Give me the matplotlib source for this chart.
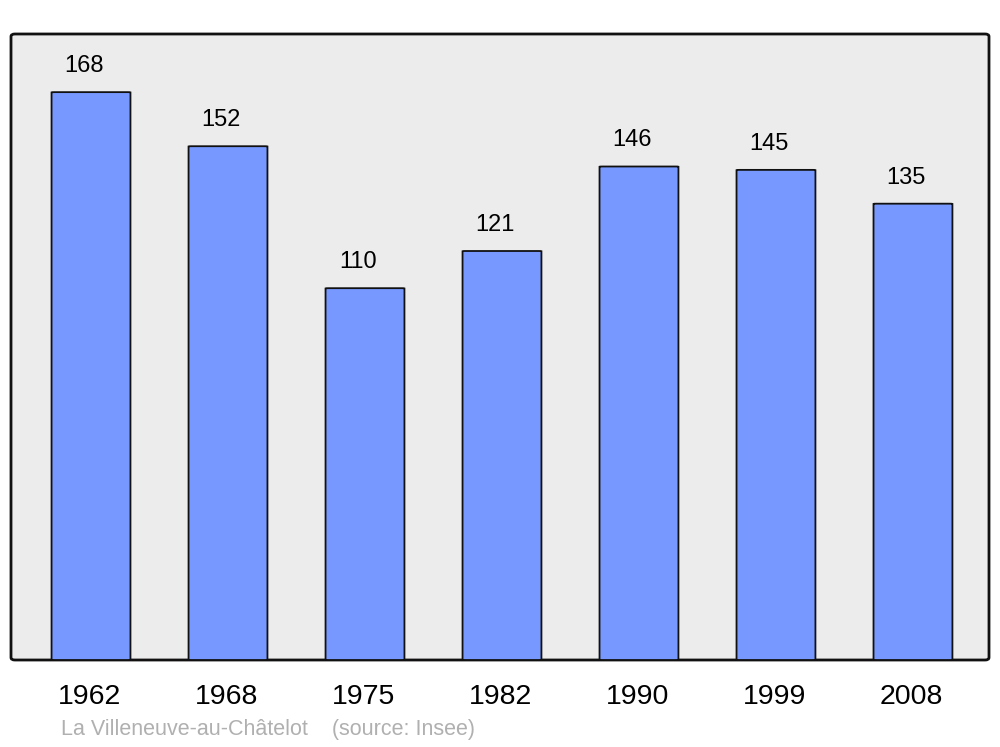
import matplotlib.pyplot as plt
from matplotlib.patches import FancyBboxPatch

years = ['1962', '1968', '1975', '1982', '1990', '1999', '2008']
population = [168, 152, 110, 121, 146, 145, 135]

plt.rcParams['font.family'] = ['Liberation Sans', 'DejaVu Sans']

fig = plt.figure(figsize=(10, 7.47), dpi=100)
# axes box: x 11..989, y 34..660 (pixels)
ax = fig.add_axes([11 / 1000, 1 - 660 / 747, 978 / 1000, 626 / 747])
ax.set_xlim(-0.584, 6.555)
ax.set_ylim(0, 185.2)
ax.axis('off')

# rounded grey frame
frame = FancyBboxPatch((0, 0), 1, 1, boxstyle='round,pad=0,rounding_size=0.004',
                       transform=ax.transAxes, facecolor='#ececec',
                       edgecolor='#111111', linewidth=2, zorder=0, clip_on=False)
ax.add_patch(frame)

x = range(len(years))
for i, v in zip(x, population):
    bar = FancyBboxPatch((i - 0.288, 0), 0.576, v,
                         boxstyle='round,pad=0,rounding_size=0.02',
                         mutation_aspect=3.5,
                         facecolor='#7799ff', edgecolor='#111111', linewidth=1.3, zorder=2)
    ax.add_patch(bar)
    ax.annotate(str(v), (i - 0.05, v), xytext=(0, 18.8), textcoords='offset points',
                ha='center', va='center', fontsize=17)
    ax.text(i - 0.01, -10.9, years[i], ha='center', va='center', fontsize=20.5)

fig.text(61 / 1000, 1 - 730 / 747, 'La Villeneuve-au-Châtelot    (source: Insee)',
         ha='left', va='center', fontsize=15.5, color='#b0b0b0')

fig.savefig('out.png', dpi=100)
